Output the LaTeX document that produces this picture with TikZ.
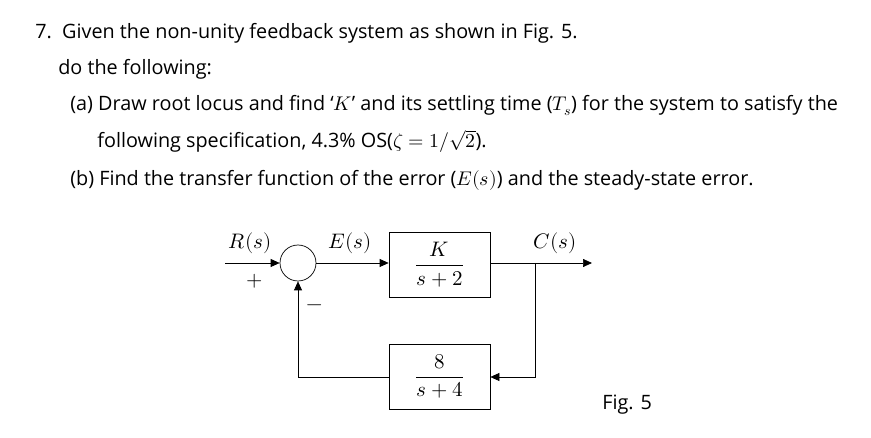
\documentclass[tikz,border=0pt]{standalone}
\usepackage{fontspec}
\setmainfont{Open Sans}
\usepackage{unicode-math}
\setmathfont{Latin Modern Math}
\usetikzlibrary{arrows.meta}
\begin{document}
\begin{tikzpicture}[x=1pt,y=-1pt,
  txt/.style={anchor=base west,inner sep=0,font=\fontsize{19.8}{23}\selectfont},
  blk/.style={draw,minimum width=101pt,minimum height=65pt,inner sep=0,font=\fontsize{21}{24}\selectfont},
  lab/.style={font=\fontsize{21}{24}\selectfont},
  sig/.style={-{Triangle[length=9pt,width=8pt]},line width=0.7pt},
  every path/.style={line width=0.7pt}]
\useasboundingbox (0,0) rectangle (871,438);
\node[txt] (l1) at (35,39) {7.\ \ Given the non-unity feedback system as shown in Fig. 5.};
\node[txt] (l2) at (58,75) {do the following:};
\node[txt] (l3) at (70,111) {(a) Draw root locus and find `$K$' and its settling time ($T_s$) for the system to satisfy the};
\node[txt] (l4) at (97,148) {following specification, 4.3\% OS($\zeta=1/\sqrt{2}$).};
\node[txt] (l5) at (70,186) {(b) Find the transfer function of the error ($E(s)$) and the steady-state error.};

\coordinate (in) at (225,263);
\node[draw,circle,minimum size=36pt,inner sep=0] (sum) at (298,263) {};
\node[blk] (g) at (439.5,264.5) {$\dfrac{K}{s+2}$};
\node[blk] (h) at (439.5,376.5) {$\dfrac{8}{s+4}$};
\coordinate (br) at (535,263);
\coordinate (out) at (592,263);
\coordinate (br2) at (535,377);
\coordinate (fl) at (298,377);
\draw[sig] (in) -- (sum);
\draw[sig] (sum) -- (g.west|-sum);
\draw[sig] (g.east|-sum) -- (out);
\draw[sig] (br) -- (br2) -- (h.east|-br2);
\draw[sig] (h.west|-fl) -- (fl) -- (sum.south);
\node[lab] (R) at (250,243) {$R(s)$};
\node[lab] (E) at (350,243) {$E(s)$};
\node[lab] (C) at (555,243) {$C(s)$};
\node[lab] (p) at (255,281) {$+$};
\node[lab] (m) at (315,308) {$-$};
\node[txt] (fig) at (602,410) {Fig. 5};
\end{tikzpicture}
\end{document}
